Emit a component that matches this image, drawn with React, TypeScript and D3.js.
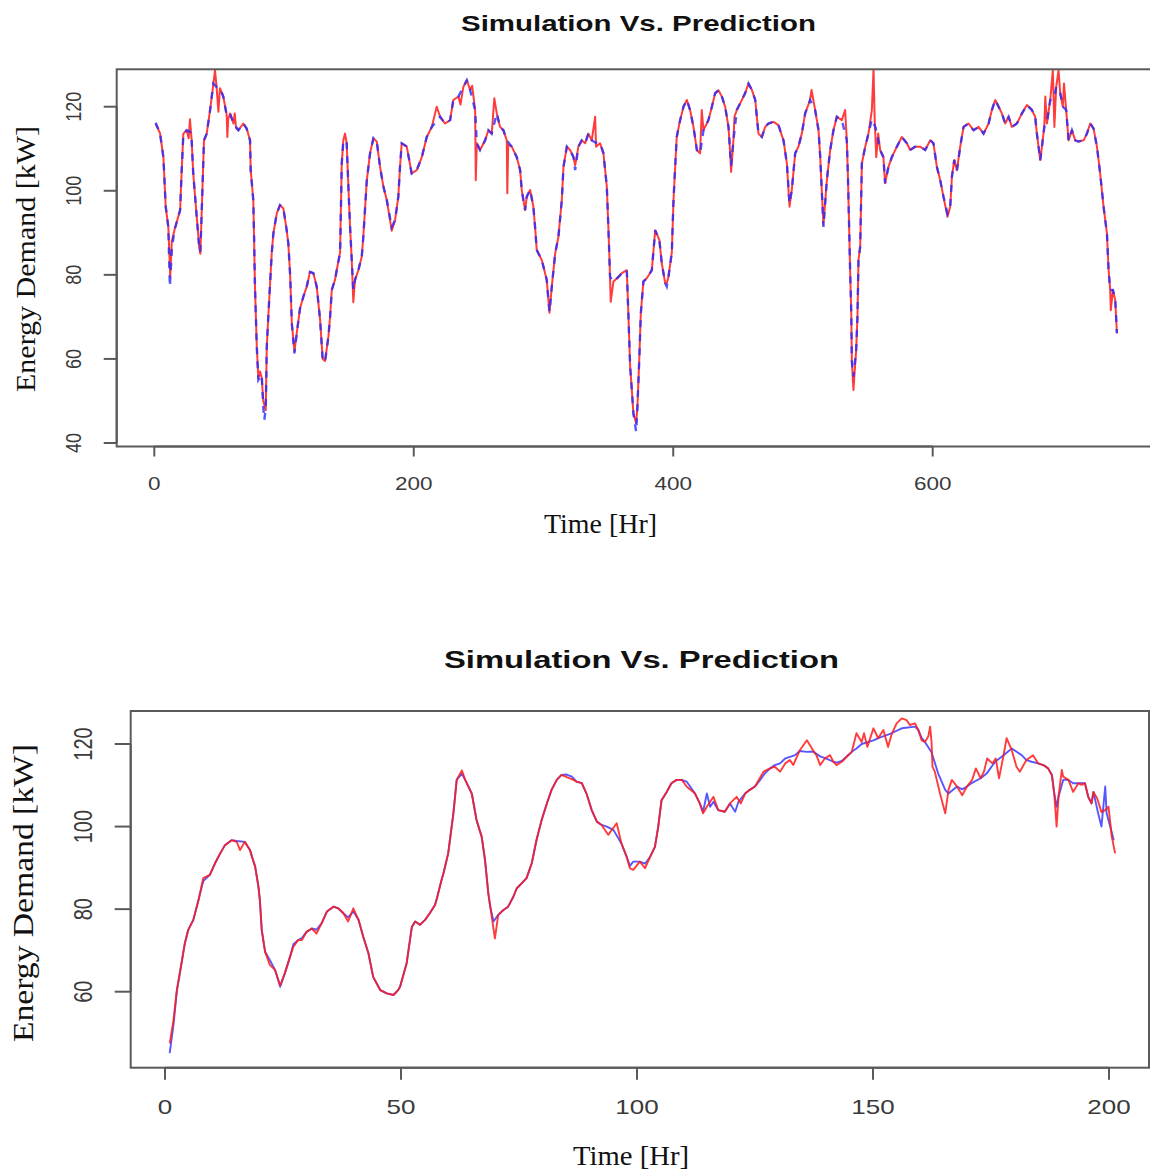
import React from "react";
import * as d3 from "d3";

type Pt = [number, number];

// ---- Data: hourly energy demand [kW], simulation (red) vs. prediction (blue) ----

const monthPrediction: Pt[] = [
  [1,116.2],[4.4,113.7],[7,108],[8.8,96.2],[10.8,91.4],[12,77.2],[13.5,86],[15.5,90.6],[19.9,95.4],[21,104],[22.4,113.6],[25,114.4],[27.5,114],[28.8,112],[30,104.2],[32.7,93.8],[34.7,86.3],[35.5,85.5],[36.5,94.6],[38.3,112],[40.4,113.6],[43,119.2],[45.5,125.5],[48,124.7],[50.6,124.4],[53.2,122.4],[55.8,118],[58.4,118.4],[61,116],[64.8,114.4],[68.6,116],[71.2,114.8],[73.8,112],[74.3,104.9],[76.3,97.8],[76.9,89],[77.6,77.2],[79,62.9],[80.2,55],[82.8,56.2],[84,48.6],[84.8,45.5],[85.9,48],[86.7,62.9],[88,70.8],[90.5,85.1],[91.8,89.9],[94.4,94.6],[96.9,96.6],[99.5,95.8],[102,90.7],[103.3,87.5],[104.7,80],[106,68.5],[108,61.3],[109.8,66.1],[112.3,72],[114.9,74.8],[117.5,77.2],[120,80.7],[122.6,80.4],[125.2,77.2],[127.8,69.3],[129.8,59.7],[131.6,59.3],[134.2,65.3],[135.5,70],[136.8,76.4],[139.3,78.8],[140.6,81.1],[143.2,85.3],[144.5,106.5],[145.7,112],[148.3,111.3],[149.6,101],[150.9,91.4],[152.2,83.5],[153.4,76.5],[154.7,78.8],[157.3,81.1],[159.9,84.3],[161.1,89],[163.8,102.5],[166.3,108.9],[168.9,112.5],[171.5,111.7],[174,105.7],[176.6,101],[179.2,97.8],[183,91.4],[185.6,93],[188.1,98.6],[189.4,105.7],[190.7,111.3],[194.6,110.5],[198.4,104.1],[202.3,104.9],[206.2,108],[210,112.8],[213.9,115.2],[220.3,117.6],[224.1,116],[228,116.8],[230.5,121.6],[234.4,122.4],[238.2,124.7],[240.9,126.3],[243.4,124],[247.3,119.2],[248.6,111.3],[251.1,109.7],[255,112],[257.5,114.4],[260.1,113.6],[264,118.4],[266.5,115.2],[269.1,114.4],[271.7,112],[275.5,110.5],[279.4,108],[282,104.9],[283.2,100.2],[285.8,95.4],[287.1,98.6],[289.7,100.2],[292.2,96.2],[293.5,91.4],[294.8,85.9],[298.7,83.5],[300,81.9],[302.5,78.8],[303.8,74],[304.6,71.2],[306.4,77.2],[309,85.1],[311.5,89],[314.1,97.8],[315.4,105.7],[318,110.5],[320.5,109.7],[323.1,108],[324.4,104.9],[326.9,110.5],[329.5,112],[332.1,111.3],[334.6,113.6],[337.2,112],[339.8,111.5],[343.6,111.3],[346.2,108.9],[348.8,101],[350,91.4],[351.3,79.5],[353.9,78.4],[357.8,79.5],[360.4,80.4],[364.2,81.1],[365.5,70],[366.8,58.1],[368.1,52.6],[369.3,47],[371.4,42.7],[372.4,48.6],[373.9,60.5],[375,70.8],[377,78.4],[379.6,79.2],[383.5,81.1],[386.1,90.6],[389.3,88.3],[391.2,82.7],[393.8,78],[395,77.2],[396.3,79.5],[398.9,85.3],[400.2,97.8],[401.5,105.7],[402.7,112.8],[405.3,116.8],[407.9,120],[410.5,121.6],[413,119.2],[415.6,115.2],[418.2,109.7],[420.7,108.9],[423.3,114.4],[427.1,116.8],[429.8,120],[432.3,123.2],[434.9,123.9],[437.5,122.4],[440,120],[442.6,115.2],[443.9,108.9],[444.6,106],[446.4,112],[449,119.2],[451.6,120.8],[455.4,123.2],[458,125.5],[460.6,124],[463.2,121.6],[465.7,113.6],[468.3,112.8],[470.9,115.2],[473.4,116],[477.3,116.4],[481.1,115.6],[485,112],[487.6,106.5],[489.6,97],[491.4,100.2],[494,108.9],[496.5,110.5],[499.1,113.6],[501.7,118.4],[505.5,121.6],[509.4,119.2],[512,114.4],[513.3,108],[514.6,99.4],[515.8,91.4],[518.4,102.5],[521,109.7],[523.5,114.4],[526.1,117.6],[530,116.8],[533.8,112],[534.6,104.1],[535.4,93.8],[536.4,80.4],[537.2,71.2],[537.7,59.3],[538.9,55.8],[541,62.1],[542,70],[542.8,83.5],[544.1,86.7],[545.4,106.5],[548,110.5],[550.5,113.6],[553.1,117],[556,115],[559.5,109.7],[562,108],[563.3,101.8],[565.9,105.7],[568.5,108],[572.4,110.5],[576.2,112.8],[580.1,111.3],[582.6,109.7],[586.5,110.5],[590.3,110.5],[594.2,109.7],[598.1,112],[600.6,111.3],[603.2,105.7],[605.8,102.5],[608.3,98.6],[611.4,94.6],[613.5,96.2],[614.8,103.3],[616.6,107.3],[618.7,104.9],[621.2,110.5],[623.8,115.2],[627.6,116],[631.5,114.4],[635.4,115.2],[639.2,113.6],[643.1,116],[645.6,119.2],[648.2,121.6],[650.8,120],[653.3,118.4],[655.9,116],[658.5,117.6],[661,115.2],[664.9,116],[668.8,118.4],[672.6,120.4],[676.5,119.2],[679,117.6],[680.3,113.6],[681.6,110.5],[682.9,107.3],[684.2,110.5],[686,115.2],[688,116],[690.6,121.6],[693.5,122],[695.2,124.7],[698.3,123.2],[700.5,120],[702.9,119.2],[704.7,112],[707.3,114.4],[709.9,112],[712.4,111.7],[716.3,112],[718.9,113.6],[721.4,116],[724,114.8],[726.6,110.5],[729.1,104.1],[731.7,96.2],[734.3,89.9],[735.5,81.5],[736.8,76.4],[738.9,76.4],[740.7,74],[742,66.1],
];

const monthSimulation: Pt[] = [
  [1,116],[4.4,113.7],[7,108],[8.8,96.2],[10.8,91.4],[12.3,79.5],[13.5,88],[15.5,90.6],[19.9,95.4],[21,104],[22.4,113.6],[25,114.4],[26.5,112.5],[27.5,117],[28.8,112],[30,104.2],[32.7,93.8],[34.7,86.3],[35.5,85],[36.5,94.6],[38.3,112],[40.4,113.6],[43,119.2],[45,124],[46.8,128.7],[48,124.7],[49.4,118.8],[50.6,124.4],[53.2,122.4],[55.8,118],[56.3,112.8],[57,117],[58.4,118.4],[61,116],[62,118.4],[63,115],[64.8,114.4],[68.6,116],[71.2,114.8],[73.8,112],[74.3,104.9],[76.3,97.8],[76.9,89],[77.6,77.2],[79,62.9],[80.2,55.5],[81.5,57],[82.8,55.5],[84,50],[85.9,47.8],[86.7,62.9],[88,70.8],[90.5,85.1],[91.8,89.9],[94.4,94.6],[96.9,96.6],[99.5,95.8],[102,90.7],[103.3,87.5],[104.7,80],[106,68.5],[108,61.8],[109.8,66.1],[112.3,72],[114.9,74.8],[117.5,77.2],[120,80.7],[122.6,80.4],[125.2,77.2],[127.8,69.3],[129.8,60],[131.6,59.5],[134.2,65.3],[135.5,70],[136.8,76.4],[139.3,78.8],[140.6,81.1],[143.2,85.3],[144.5,106.5],[145.7,112],[147,113.6],[148.3,111.3],[149.6,101],[150.9,91.4],[152.2,83.5],[153.4,73.5],[154.7,78.8],[157.3,81.1],[159.9,84.3],[161.1,89],[163.8,102.5],[166.3,108.9],[168.9,112.5],[171.5,111.7],[174,105.7],[176.6,101],[179.2,97.8],[183,90.5],[185.6,93],[188.1,98.6],[189.4,105.7],[190.7,111.3],[194.6,110.5],[198.4,104.1],[202.3,104.9],[206.2,108],[210,112.8],[213.9,115.2],[217.7,120],[220.3,117.6],[224.1,116],[228,116.8],[230.5,121.6],[234.4,122.4],[236,120.5],[238.2,124.7],[240.9,126.3],[243.4,124],[245,125],[247.3,119.2],[247.8,102.5],[248.6,111.3],[251.1,109.7],[255,112],[257.5,114.4],[260.1,113.6],[262.1,122],[264,118.4],[266.5,115.2],[269.1,114.4],[271.7,112],[272.1,99.4],[272.8,111],[275.5,110.5],[279.4,108],[282,104.9],[283.2,100.2],[285.8,95.4],[287.1,98.6],[289.7,100.2],[292.2,96.2],[293.5,91.4],[294.8,85.9],[298.7,83.5],[300,81.9],[302.5,78.8],[303.8,74],[304.6,71],[306.4,77.2],[309,85.1],[311.5,89],[314.1,97.8],[315.4,105.7],[318,110.5],[320.5,109.7],[323.1,108],[324.4,106],[326.9,110.5],[329.5,112],[332.1,111.3],[334.6,113.6],[337.2,112],[339.8,117.6],[340.5,110.5],[343.6,111.3],[346.2,108.9],[348.8,101],[350,91.4],[351.3,79.5],[351.8,73.6],[353.9,78.4],[357.8,79.5],[360.4,80.4],[364.2,81.1],[365.5,70],[366.8,58.1],[368.1,52.6],[369.3,47],[371.4,44.7],[372.4,48.6],[373.9,60.5],[375,70.8],[377,78.4],[379.6,79.2],[383.5,81.1],[386.1,90.6],[389.3,88.3],[391.2,82.7],[393.8,78],[395,78],[396.3,79.5],[398.9,85.3],[400.2,97.8],[401.5,105.7],[402.7,112.8],[405.3,116.8],[407.9,120],[410.5,121.6],[413,119.2],[415.6,115.2],[418.2,109.7],[420.7,108.9],[422,119.2],[423.3,114.4],[427.1,116.8],[429.8,120],[432.3,123.2],[434.9,123.9],[437.5,122.4],[440,120],[442.6,115.2],[443.9,108.9],[444.6,104.5],[446.4,112],[447.2,117.6],[449,119.2],[451.6,120.8],[455.4,123.2],[458,125.5],[460.6,124],[463.2,121.6],[465.7,113.6],[468.3,112.8],[470.9,115.2],[473.4,116],[477.3,116.4],[481.1,115.6],[485,112],[487.6,106.5],[489.6,96.2],[491.4,100.2],[494,108.9],[496.5,110.5],[499.1,113.6],[501.7,118.4],[505.5,121.6],[506.6,124],[509.4,119.2],[512,114.4],[513.3,108],[514.6,99.4],[515.8,92],[518.4,102.5],[521,109.7],[523.5,114.4],[526.1,117.6],[530,116.8],[532.5,119.2],[533.8,112],[534.6,104.1],[535.4,93.8],[536.4,80.4],[537.2,71.2],[537.7,59.3],[538.9,52.6],[541,62.1],[542,70],[542.8,83.5],[544.1,86.7],[545.4,106.5],[548,110.5],[550.5,113.6],[553.1,119.2],[554.4,129],[555.2,117.6],[556.5,108],[558,113.6],[559.5,109.7],[562,108],[563.3,101.8],[565.9,105.7],[568.5,108],[572.4,110.5],[576.2,112.8],[580.1,111.3],[582.6,109.7],[586.5,110.5],[590.3,110.5],[594.2,109.7],[598.1,112],[600.6,111.3],[603.2,105.7],[605.8,102.5],[608.3,98.6],[611.4,93.8],[613.5,96.2],[614.8,103.3],[616.6,107.3],[618.7,104.9],[621.2,110.5],[623.8,115.2],[627.6,116],[631.5,114.4],[635.4,115.2],[639.2,113.6],[643.1,116],[645.6,119.2],[648.2,121.6],[650.8,120],[653.3,118.4],[655.9,116],[658.5,117.6],[661,115.2],[664.9,116],[668.8,118.4],[672.6,120.4],[676.5,119.2],[679,117.6],[680.3,113.6],[681.6,110.5],[682.9,107.3],[684.2,110.5],[686,115.2],[686.8,122.4],[688,116],[690.6,121.6],[692.6,128.7],[693.8,115.2],[695.2,124.7],[697,128.7],[698.3,123.2],[700.3,120],[701.2,125.5],[702.9,119.2],[704.7,112],[707.3,114.4],[709.9,112],[712.4,111.7],[716.3,112],[718.9,113.6],[721.4,116],[724,114.8],[726.6,110.5],[729.1,104.1],[731.7,96.2],[734.3,89.9],[735.5,81.5],[736.8,76.4],[737.3,71.6],[738.9,76.4],[740.7,74],[742,66.1],
];

const windowPrediction: Pt[] = [
  [1,45.1],[1.8,52],[2.5,60],[3.5,66.9],[4.2,71.7],[4.9,74.9],[6,77.4],[7.1,82.2],[8.1,86.8],[9.5,88.3],[10.6,91.1],[11.7,93.5],[12.7,95.5],[14.1,96.7],[15.2,96.5],[16.9,96.3],[18,94.3],[19.1,90.3],[19.8,85.4],[20.1,82.2],[20.5,74.9],[21.2,69.7],[22.2,67.7],[23.3,65.3],[24.4,61.2],[25.4,64.5],[26.5,68.5],[27.2,71.5],[28.2,72.5],[29,73],[30,74.5],[31.1,75.3],[32.1,75],[33.2,76.6],[34.3,79.4],[35.7,80.6],[36.7,80.2],[37.8,79],[38.8,78],[39.9,79.4],[41,77.4],[42,73.3],[43.1,69.3],[44.1,63.6],[45.6,60.4],[47,59.6],[48.4,59.2],[49.4,60.4],[49.8,61.2],[51.2,66.9],[52.3,75.7],[53,77],[54,76.2],[55.1,77.4],[56.1,79],[57.2,81],[57.6,82.6],[58.6,87.1],[59,88.7],[60,93.5],[61.1,103.2],[61.8,111.3],[62.9,112.8],[63.6,111.3],[65,108],[66,101.6],[67.1,97.5],[67.8,91.9],[68.5,83.8],[68.9,80.6],[69.6,77],[70.6,78.6],[71.7,79.8],[72.7,80.6],[73.8,83],[74.5,85],[75.6,86.3],[76.6,87.5],[77.7,91.1],[78.7,96.7],[79.8,101.6],[80.9,105.6],[81.9,108.9],[83,111.3],[84,112.5],[85.1,112.6],[86.2,112.1],[87.2,110.9],[88.3,110.5],[89.3,108],[90.4,104],[91.5,101.2],[92.5,100.4],[93.6,100],[95,99.2],[96.7,95.9],[97.8,92.7],[98.5,90.5],[99.2,91.5],[100.6,91.5],[101.7,91],[102.8,92.7],[103.8,95.1],[104.5,100],[105.2,106.4],[106.3,108.4],[107.3,110.5],[108.4,111.3],[109.5,111.3],[110.5,110.9],[112.3,108],[113.3,105.6],[114,103.6],[114.8,108],[115.5,104.8],[116.2,106],[117.2,104],[118.6,103.6],[119.7,105.6],[120.8,103.6],[121.5,106],[122.9,108],[123.9,108.9],[125,109.7],[126.1,111.3],[127.1,112.9],[128.2,114.1],[129.2,114.9],[130.3,115.3],[131.4,116.5],[132.4,116.9],[133.5,117.3],[134.5,118.3],[136,118.1],[137.3,118.2],[138.8,117],[140,116.5],[141.6,115.7],[142.3,115.5],[143.4,115.9],[144.4,116.9],[145.5,118.1],[146.5,118.9],[147.6,120],[150.1,120.9],[151.1,121.4],[153.9,122.6],[156.1,123.8],[158.9,124.2],[159.6,123.4],[160.3,121.5],[161,120.5],[162.4,118],[163.8,112.9],[165.3,108.9],[166,108],[167.8,109.7],[168.9,109],[169.9,109.7],[171,110.6],[172.8,111.7],[174.2,113],[175.3,114.8],[176,115.8],[177.6,117.2],[179.4,118.9],[181.5,117.3],[182.5,116.1],[183.6,115.7],[185,115.3],[186.1,114.9],[187.1,114.1],[187.9,112.5],[188.4,108],[188.9,104.8],[189.3,107.2],[190.3,111.3],[191.4,111.3],[192.4,110.5],[193.5,110.5],[194.9,110.5],[195.6,107.2],[196.3,105.6],[196.7,108.4],[197.7,103.2],[198.4,100],[199.2,109.7],[199.5,103.2],[200.6,98.5],[201,96.7],
];

const windowSimulation: Pt[] = [
  [1,47.5],[1.8,53.1],[2.5,60.4],[3.5,66.9],[4.2,71.7],[4.9,74.9],[6,77.4],[7.1,82.2],[8.1,87.5],[9.5,88.3],[10.6,91.1],[11.7,93.5],[12.7,95.5],[14.1,96.7],[15.2,96.3],[15.9,94.3],[16.9,96.3],[18,94.3],[19.1,90.3],[19.8,85.4],[20.1,82.2],[20.5,74.9],[21.2,69.7],[22.2,66.5],[23.3,65.3],[24.4,61.5],[25.4,64.5],[26.5,68.5],[27.2,70.9],[28.2,72.5],[29,72.5],[30,74.5],[31.1,75.3],[32.1,74.1],[33.2,76.6],[34.3,79.4],[35.7,80.6],[36.7,80.2],[37.8,79],[38.8,77],[39.9,80.2],[41,77.4],[42,73.3],[43.1,69.3],[44.1,63.6],[45.6,60.4],[47,59.6],[48.4,59.2],[49.4,60.4],[49.8,61.2],[51.2,66.9],[52.3,75.7],[53,77],[54,76.2],[55.1,77.4],[56.1,79],[57.2,81],[57.6,82.6],[58.6,87.1],[59,88.7],[60,93.5],[61.1,103.2],[61.8,111.3],[62.9,113.6],[63.6,111.3],[65,108],[66,101.6],[67.1,97.5],[67.8,91.9],[68.5,83.8],[69.9,72.9],[70.6,78.6],[71.7,79.8],[72.7,80.6],[73.8,83],[74.5,85],[75.6,86.3],[76.6,87.5],[77.7,91.1],[78.7,96.7],[79.8,101.6],[80.9,105.6],[81.9,108.9],[83,111.3],[84,112.5],[85.1,112],[86.2,111.5],[87.2,110.9],[88.3,110.5],[89.3,108],[90.4,104],[91.5,101.2],[92.5,100.4],[93.9,98],[95.7,100.8],[96.7,95.9],[97.8,92.7],[98.5,89.9],[99.2,89.5],[100.6,91.5],[101.7,89.9],[102.8,92.7],[103.8,95.1],[104.5,100],[105.2,106.4],[106.3,108.4],[107.3,110.5],[108.4,111.3],[109.5,111.3],[110.5,109.7],[112.3,108],[113.3,105.6],[114,103.2],[114.8,104.8],[116.2,107.2],[117.2,104],[118.6,103.6],[119.7,105.6],[121.1,107.2],[122,105.6],[122.9,108],[123.9,108.9],[125,109.7],[125.4,110.5],[126.8,113.3],[128.2,114.1],[129.2,114.5],[130.3,113.3],[131.4,115.3],[132.4,116.1],[133.1,114.9],[134.5,118.5],[136,120.9],[137.3,118.5],[138,117.3],[138.8,114.9],[139.8,116.5],[140.9,117.3],[141.6,115.7],[142.3,114.9],[143.4,115.7],[144.4,116.9],[145.5,118.1],[146.5,122.6],[147.6,120.5],[148.1,122.6],[148.8,119.3],[150.1,123.8],[151.1,121.4],[152.2,123.4],[153.2,119.3],[153.9,122.2],[155,125],[156.1,126.2],[157.1,125.8],[157.8,124.6],[158.9,125],[159.6,123.4],[160.3,120.9],[161,120.5],[161.7,121.8],[162.1,124.2],[162.4,120.5],[162.6,114.5],[163.1,113.3],[164.2,108],[165.3,103.2],[166,108.9],[166.7,111.3],[167.8,109.7],[168.9,107.6],[169.9,109.7],[171,111.3],[171.8,114.1],[172.8,111.7],[173.5,113.3],[174.2,116.5],[175.3,115.3],[176,116.5],[176.7,111.7],[177.6,116.9],[178.3,121.4],[179.4,118.5],[180.4,114.5],[181.1,113.3],[182.5,116.1],[183.9,117.3],[185,115.3],[186.1,114.9],[187.1,114.1],[187.9,112.5],[188.4,108],[188.9,100],[189.3,107.2],[190,113.7],[190.3,112.1],[191.4,111.3],[192.4,108.4],[193.5,110.5],[194.2,110.1],[194.9,110.5],[195.6,107.2],[196.3,105.6],[196.7,108.4],[197.5,106.8],[198.4,103.5],[199.2,104],[199.9,104.8],[200.6,97.5],[201.3,93.5],
];

const monthXTicks = [0, 200, 400, 600];
const monthYTicks = [40, 60, 80, 100, 120];
const windowXTicks = [0, 50, 100, 150, 200];
const windowYTicks = [60, 80, 100, 120];

const TITLE = "Simulation Vs. Prediction";
const X_LABEL = "Time [Hr]";
const Y_LABEL = "Energy Demand [kW]";

// ---- Panel ----

type PanelProps = {
  id: string;
  sim: Pt[];
  pred: Pt[];
  xTicks: number[];
  yTicks: number[];
  xRef: [number, number]; // two tick values
  xPix: [number, number]; // their pixel positions
  yRef: [number, number];
  yPix: [number, number];
  box: { x0: number; x1: number; y0: number; y1: number };
  xTickLen: number;
  yTickLen: number;
  tickFont: number;
  tickStretch: number;
  xTickBaseline: number;
  yTickBaseline: number;
  title: { cx: number; base: number; size: number; len: number };
  xlab: { cx: number; base: number; size: number; len: number };
  ylab: { cy: number; base: number; size: number; len: number };
  predDashed: boolean;
};

function Panel(p: PanelProps) {
  const x = d3.scaleLinear().domain(p.xRef).range(p.xPix);
  const y = d3.scaleLinear().domain(p.yRef).range(p.yPix);
  const line = d3
    .line<Pt>()
    .x((d) => x(d[0]))
    .y((d) => y(d[1]));
  const { x0, x1, y0, y1 } = p.box;
  const axisColor = "#5a5a5a";
  const tickColor = "#3a3a3a";
  return (
    <g>
      <defs>
        <clipPath id={`clip-${p.id}`}>
          <rect x={x0} y={y0} width={x1 - x0} height={y1 - y0} />
        </clipPath>
      </defs>

      <text
        x={p.title.cx}
        y={p.title.base}
        textAnchor="middle"
        fontFamily="'Liberation Sans', Arial, sans-serif"
        fontWeight="bold"
        fontSize={p.title.size}
        textLength={p.title.len}
        lengthAdjust="spacingAndGlyphs"
        fill="#111"
      >
        {TITLE}
      </text>

      <g clipPath={`url(#clip-${p.id})`}>
        {p.predDashed ? (
          <>
            <path d={line(p.sim) || ""} fill="none" stroke="#ff1a1a" strokeOpacity={0.85} strokeWidth={2} strokeLinejoin="round" />
            <path d={line(p.pred) || ""} fill="none" stroke="#2a2aff" strokeOpacity={0.8} strokeWidth={2.4} strokeDasharray="7,7" />
          </>
        ) : (
          <>
            <path d={line(p.pred) || ""} fill="none" stroke="#3a3aff" strokeOpacity={0.85} strokeWidth={1.9} strokeLinejoin="round" />
            <path d={line(p.sim) || ""} fill="none" stroke="#ff1a1a" strokeOpacity={0.85} strokeWidth={1.9} strokeLinejoin="round" />
          </>
        )}
      </g>

      <rect x={x0} y={y0} width={x1 - x0} height={y1 - y0} fill="none" stroke={axisColor} strokeWidth={2} />

      {/* x axis */}
      <line x1={x(p.xTicks[0])} x2={x(p.xTicks[p.xTicks.length - 1])} y1={y1} y2={y1} stroke={axisColor} strokeWidth={2} />
      {p.xTicks.map((t) => (
        <g key={`xt${t}`}>
          <line x1={x(t)} x2={x(t)} y1={y1} y2={y1 + p.xTickLen} stroke={axisColor} strokeWidth={2} />
          <text
            transform={`translate(${x(t)},${p.xTickBaseline}) scale(${p.tickStretch},1)`}
            textAnchor="middle"
            fontFamily="'Liberation Sans', Arial, sans-serif"
            fontSize={p.tickFont}
            fill={tickColor}
          >
            {t}
          </text>
        </g>
      ))}

      {/* y axis */}
      <line x1={x0} x2={x0} y1={y(p.yTicks[0])} y2={y(p.yTicks[p.yTicks.length - 1])} stroke={axisColor} strokeWidth={2} />
      {p.yTicks.map((t) => (
        <g key={`yt${t}`}>
          <line x1={x0 - p.yTickLen} x2={x0} y1={y(t)} y2={y(t)} stroke={axisColor} strokeWidth={2} />
          <text
            transform={`translate(${p.yTickBaseline},${y(t)}) scale(${p.tickStretch},1) rotate(-90)`}
            textAnchor="middle"
            fontFamily="'Liberation Sans', Arial, sans-serif"
            fontSize={p.tickFont}
            fill={tickColor}
          >
            {t}
          </text>
        </g>
      ))}

      <text
        x={p.xlab.cx}
        y={p.xlab.base}
        textAnchor="middle"
        fontFamily="'Liberation Serif', 'Times New Roman', serif"
        fontSize={p.xlab.size}
        textLength={p.xlab.len}
        lengthAdjust="spacingAndGlyphs"
        fill="#111"
      >
        {X_LABEL}
      </text>
      <text
        transform={`translate(${p.ylab.base},${p.ylab.cy}) rotate(-90)`}
        textAnchor="middle"
        fontFamily="'Liberation Serif', 'Times New Roman', serif"
        fontSize={p.ylab.size}
        textLength={p.ylab.len}
        lengthAdjust="spacingAndGlyphs"
        fill="#111"
      >
        {Y_LABEL}
      </text>
    </g>
  );
}

export default function App() {
  return (
    <div style={{ position: "absolute", left: 0, top: 0, width: 1150, height: 1172, overflow: "hidden", background: "#fff" }}>
      <svg width={1150} height={1172} viewBox="0 0 1150 1172" style={{ display: "block" }}>
        <rect width={1150} height={1172} fill="#fff" />
        <Panel
          id="month"
          sim={monthSimulation}
          pred={monthPrediction}
          xTicks={monthXTicks}
          yTicks={monthYTicks}
          xRef={[0, 600]}
          xPix={[154.3, 932.7]}
          yRef={[40, 120]}
          yPix={[443, 106.7]}
          box={{ x0: 116.7, x1: 1160, y0: 69.3, y1: 446.5 }}
          xTickLen={10}
          yTickLen={13}
          tickFont={18}
          tickStretch={1.25}
          xTickBaseline={489.5}
          yTickBaseline={80.5}
          title={{ cx: 638.5, base: 30.5, size: 22.5, len: 355 }}
          xlab={{ cx: 600.5, base: 533, size: 27, len: 113 }}
          ylab={{ cy: 259, base: 35, size: 28, len: 266 }}
          predDashed={true}
        />
        <Panel
          id="window"
          sim={windowSimulation}
          pred={windowPrediction}
          xTicks={windowXTicks}
          yTicks={windowYTicks}
          xRef={[0, 200]}
          xPix={[165, 1109]}
          yRef={[60, 120]}
          yPix={[991.7, 744]}
          box={{ x0: 130.7, x1: 1149, y0: 711, y1: 1067.7 }}
          xTickLen={12}
          yTickLen={16}
          tickFont={20}
          tickStretch={1.3}
          xTickBaseline={1114}
          yTickBaseline={92}
          title={{ cx: 641.5, base: 668, size: 23.5, len: 395 }}
          xlab={{ cx: 631, base: 1165, size: 28, len: 116 }}
          ylab={{ cy: 893, base: 33, size: 29, len: 298 }}
          predDashed={false}
        />
      </svg>
    </div>
  );
}
